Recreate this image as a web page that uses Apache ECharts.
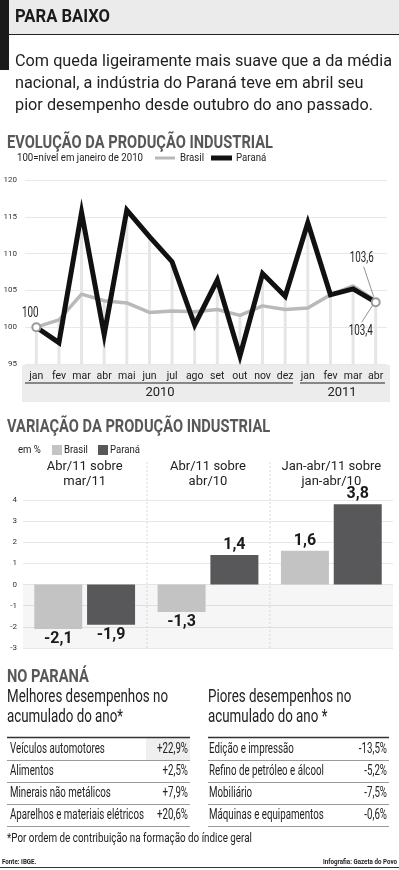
<!DOCTYPE html>
<html>
<head>
<meta charset="utf-8">
<script src="https://cdn.jsdelivr.net/npm/echarts@6/dist/echarts.min.js"></script>
<style>
  html, body { margin: 0; padding: 0; background: #fff; }
  #main { width: 399px; height: 870px; }
</style>
</head>
<body>
<div id="main"></div>
<script>
// evolution chart (100 = jan/2010)
var months = ['jan', 'fev', 'mar', 'abr', 'mai', 'jun', 'jul', 'ago', 'set', 'out', 'nov', 'dez', 'jan', 'fev', 'mar', 'abr'];
var brasil = [100, 101, 104.5, 103.6, 103.3, 102.0, 102.2, 102.1, 102.4, 101.6, 102.9, 102.4, 102.6, 104.4, 105.6, 103.6];
var parana = [100, 97.9, 115.6, 99.0, 115.9, 112.3, 108.9, 100.3, 106.4, 96.1, 107.3, 104.2, 114.2, 104.4, 105.2, 103.4];
var years = ['2010', '2011'];

// variation chart (%)
var varCats = ['Abr/11 sobre\nmar/11', 'Abr/11 sobre\nabr/10', 'Jan-abr/11 sobre\njan-abr/10'];
var varBrasil = [-2.1, -1.3, 1.6];
var varParana = [-1.9, 1.4, 3.8];

// tables
var melhoresNomes = ['Veículos automotores', 'Alimentos', 'Minerais não metálicos', 'Aparelhos e materiais elétricos'];
var melhoresValores = [22.9, 2.5, 7.9, 20.6];
var pioresNomes = ['Edição e impressão', 'Refino de petróleo e álcool', 'Mobiliário', 'Máquinas e equipamentos'];
var pioresValores = [-13.5, -5.2, -7.5, -0.6];

var SANS = 'Roboto, "Noto Sans", sans-serif';
var TITLE_GRAY = '#58585a';

var ctx = document.createElement('canvas').getContext('2d');

function fmt(v) {
    return v % 1 === 0 ? String(v) : v.toFixed(1).replace('.', ',');
}
function pct(v) {
    return (v > 0 ? '+' : '') + v.toFixed(1).replace('.', ',') + '%';
}
// horizontal squeeze so a sample string takes the width it has in the print layout
function squeeze(sample, font, width) {
    ctx.font = font;
    return width / ctx.measureText(sample).width;
}
function txt(x, y, text, font, opts) {
    opts = opts || {};
    return {
        type: 'text', x: x, y: y, z: 100, scaleX: opts.scale || 1,
        style: {
            text: text, font: font, fill: opts.fill || '#222',
            align: opts.align || 'left', verticalAlign: 'middle'
        }
    };
}
function hline(x1, x2, y, color, w) {
    return { type: 'line', z: 50, shape: { x1: x1, y1: y, x2: x2, y2: y }, style: { stroke: color, lineWidth: w } };
}
function seg(x1, y1, x2, y2, color, w, dash) {
    return { type: 'line', z: 50, shape: { x1: x1, y1: y1, x2: x2, y2: y2 }, style: { stroke: color, lineWidth: w, lineDash: dash || null } };
}

var F_TITLE = 'bold 19px ' + SANS;
var F_SUB = '16.5px ' + SANS;
var F_HEAD = 'bold 18.5px ' + SANS;
var F_LEG = '10.5px ' + SANS;
var F_LEG2 = '11.5px ' + SANS;
var F_H2 = '18.5px ' + SANS;
var F_TAB = '14px ' + SANS;
var F_NOTE = '13px ' + SANS;
var F_SRC = 'bold 7.5px ' + SANS;
var F_PT = '15px ' + SANS;

var sTitle = squeeze('PARA BAIXO', F_TITLE, 95);
var sSub = squeeze('Com queda ligeiramente mais suave que a da média', F_SUB, 377);
var sHead = squeeze('EVOLUÇÃO DA PRODUÇÃO INDUSTRIAL', F_HEAD, 266);
var sLeg = squeeze('100=nível em janeiro de 2010', F_LEG, 126);
var sLeg2 = squeeze('Paraná', F_LEG2, 30);
var sH2 = squeeze('Melhores desempenhos no', F_H2, 161);
var sTab = squeeze('Aparelhos e materiais elétricos', F_TAB, 134);
var sNote = squeeze('*Por ordem de contribuição na formação do índice geral', F_NOTE, 245);
var sSrc = squeeze('Infografia: Gazeta do Povo', F_SRC, 74);
var sPt = squeeze('103,6', F_PT, 24);

var chart = echarts.init(document.getElementById('main'));

// drop lines go up to the higher of the two series
var dropLines = brasil.map(function (b, i) { return Math.max(b, parana[i]); });

var endMark = { symbol: 'circle', symbolSize: 8, itemStyle: { color: '#fff', borderColor: '#999', borderWidth: 2 } };
var paranaData = parana.map(function (v, i) {
    if (i === 0 || i === parana.length - 1) {
        return Object.assign({ value: v }, endMark);
    }
    return v;
});

var graphics = [
    // header
    { type: 'rect', z: 1, shape: { x: 0, y: 0, width: 399, height: 34 }, style: { fill: '#ebebeb' } },
    { type: 'rect', z: 2, shape: { x: 0, y: 0, width: 9, height: 70 }, style: { fill: '#1a1a1a' } },
    hline(9, 399, 34.5, '#222', 1.2),
    txt(15, 17, 'PARA BAIXO', F_TITLE, { fill: '#1a1a1a', scale: sTitle }),
    txt(15, 62, 'Com queda ligeiramente mais suave que a da média', F_SUB, { scale: sSub }),
    txt(15, 84, 'nacional, a indústria do Paraná teve em abril seu', F_SUB, { scale: sSub }),
    txt(15, 106, 'pior desempenho desde outubro do ano passado.', F_SUB, { scale: sSub }),

    // evolution title + legend
    txt(7, 143, 'EVOLUÇÃO DA PRODUÇÃO INDUSTRIAL', F_HEAD, { fill: TITLE_GRAY, scale: sHead }),
    txt(17, 158, '100=nível em janeiro de 2010', F_LEG, { scale: sLeg }),
    hline(155, 175, 158, '#b9b9b9', 3),
    txt(180, 158, 'Brasil', F_LEG, { scale: sLeg }),
    hline(211, 232, 158, '#111', 5),
    txt(236, 158, 'Paraná', F_LEG, { scale: sLeg }),

    // month label band
    { type: 'rect', z: -10, shape: { x: 22, y: 365, width: 368, height: 37 }, style: { fill: '#ececec' } },
    hline(25, 293, 383, '#222', 1),
    hline(300, 385, 383, '#222', 1),
    txt(160, 393, years[0], '13px ' + SANS, { align: 'center' }),
    txt(342, 393, years[1], '13px ' + SANS, { align: 'center' }),

    // variation title + legend
    txt(7, 427, 'VARIAÇÃO DA PRODUÇÃO INDUSTRIAL', F_HEAD, { fill: TITLE_GRAY, scale: sHead }),
    txt(18, 450, 'em %', F_LEG2, { scale: sLeg2 }),
    { type: 'rect', z: 50, shape: { x: 52, y: 445, width: 10, height: 10 }, style: { fill: '#c3c3c3' } },
    txt(64, 450, 'Brasil', F_LEG2, { scale: sLeg2 }),
    { type: 'rect', z: 50, shape: { x: 98, y: 445, width: 10, height: 10 }, style: { fill: '#58585a' } },
    txt(110, 450, 'Paraná', F_LEG2, { scale: sLeg2 }),
    seg(147, 462, 147, 648, '#cfcfcf', 0.8, [2, 2]),
    seg(270, 462, 270, 648, '#cfcfcf', 0.8, [2, 2]),

    // no paraná
    txt(7, 677, 'NO PARANÁ', F_HEAD, { fill: TITLE_GRAY, scale: sHead }),
    txt(7, 697, 'Melhores desempenhos no', F_H2, { scale: sH2 }),
    txt(7, 717, 'acumulado do ano*', F_H2, { scale: sH2 }),
    txt(208, 697, 'Piores desempenhos no', F_H2, { scale: sH2 }),
    txt(208, 717, 'acumulado do ano *', F_H2, { scale: sH2 }),
    { type: 'rect', z: 1, shape: { x: 146, y: 738, width: 44, height: 22 }, style: { fill: '#efefef' } },
    hline(7, 190, 737.5, '#333', 1.5),
    hline(208, 389, 737.5, '#333', 1.5),

    txt(7, 839, '*Por ordem de contribuição na formação do índice geral', F_NOTE, { scale: sNote }),
    txt(2, 862, 'Fonte: IBGE.', F_SRC, { scale: sSrc }),
    txt(397, 862, 'Infografia: Gazeta do Povo', F_SRC, { align: 'right', scale: sSrc }),
    hline(0, 399, 867.5, '#333', 1)
];

// table rows
var rowY = [749, 771, 793, 815];
rowY.forEach(function (y, i) {
    graphics.push(txt(10, y, melhoresNomes[i], F_TAB, { scale: sTab }));
    graphics.push(txt(188, y, pct(melhoresValores[i]), F_TAB, { align: 'right', scale: sTab }));
    graphics.push(txt(209, y, pioresNomes[i], F_TAB, { scale: sTab }));
    graphics.push(txt(387, y, pct(pioresValores[i]), F_TAB, { align: 'right', scale: sTab }));
    graphics.push(hline(7, 190, y + 11.5, '#9a9a9a', 1));
    graphics.push(hline(208, 389, y + 11.5, '#9a9a9a', 1));
});

var barLabel = {
    show: true, distance: 2, fontFamily: SANS, fontWeight: 'bold', fontSize: 16, color: '#1a1a1a',
    formatter: function (p) { return fmt(p.value); }
};

var option = {
    animation: false,
    textStyle: { fontFamily: SANS },
    graphic: graphics,
    grid: [
        { left: 25, right: 12, top: 180, height: 184 },
        { left: 23, right: 6, top: 500, height: 148 }
    ],
    xAxis: [
        {
            type: 'category', gridIndex: 0, data: months, boundaryGap: true,
            axisLine: { show: false }, axisTick: { show: false },
            axisLabel: { interval: 0, margin: 7, fontFamily: SANS, fontSize: 10.5, color: '#222' }
        },
        {
            type: 'category', gridIndex: 1, data: varCats, position: 'top',
            axisLine: { show: false, onZero: false }, axisTick: { show: false },
            axisLabel: { interval: 0, margin: 11, fontFamily: SANS, fontSize: 13, lineHeight: 15, color: '#222' }
        }
    ],
    yAxis: [
        {
            type: 'value', gridIndex: 0, min: 95, max: 120, interval: 5,
            axisLine: { show: false }, axisTick: { show: false },
            axisLabel: { margin: 8, fontSize: 8, color: '#333', fontFamily: SANS },
            splitLine: { lineStyle: { color: '#e8e8e8', width: 1 } }
        },
        {
            type: 'value', gridIndex: 1, min: -3, max: 4, interval: 1,
            axisLine: { show: false }, axisTick: { show: false },
            axisLabel: { margin: 6, fontSize: 8, color: '#333', fontFamily: SANS },
            splitLine: { lineStyle: { color: '#e8e8e8', width: 1 } }
        }
    ],
    series: [
        {
            type: 'bar', xAxisIndex: 0, yAxisIndex: 0, data: dropLines,
            barWidth: 3, clip: true, z: 1, silent: true,
            itemStyle: { color: '#e6e6e6' }
        },
        {
            name: 'Brasil', type: 'line', xAxisIndex: 0, yAxisIndex: 0, data: brasil,
            symbol: 'none', z: 3,
            lineStyle: { color: '#b9b9b9', width: 3.5 }
        },
        {
            name: 'Paraná', type: 'line', xAxisIndex: 0, yAxisIndex: 0, data: paranaData,
            symbol: 'none', showSymbol: true, z: 4,
            lineStyle: { color: '#111', width: 5, join: 'miter' }
        },
        {
            name: 'Brasil', type: 'bar', xAxisIndex: 1, yAxisIndex: 1,
            barWidth: 48, barGap: '10%',
            itemStyle: { color: '#c3c3c3' },
            data: varBrasil.map(function (v) {
                return { value: v, label: { position: v < 0 ? 'bottom' : 'top' } };
            }),
            label: barLabel,
            markArea: {
                silent: true,
                itemStyle: { color: 'rgba(0,0,0,0.035)' },
                data: [[{ yAxis: -3 }, { yAxis: 0 }]]
            }
        },
        {
            name: 'Paraná', type: 'bar', xAxisIndex: 1, yAxisIndex: 1,
            barWidth: 48, barGap: '10%',
            itemStyle: { color: '#58585a' },
            data: varParana.map(function (v) {
                return { value: v, label: { position: v < 0 ? 'bottom' : 'top' } };
            }),
            label: barLabel
        }
    ]
};
chart.setOption(option);

// point labels, placed from the chart's own scales
var last = months.length - 1;
var pFirst = chart.convertToPixel({ xAxisIndex: 0, yAxisIndex: 0 }, [0, parana[0]]);
var pBr = chart.convertToPixel({ xAxisIndex: 0, yAxisIndex: 0 }, [last, brasil[last]]);
var pPr = chart.convertToPixel({ xAxisIndex: 0, yAxisIndex: 0 }, [last, parana[last]]);
graphics.push(txt(pFirst[0] - 6, pFirst[1] - 14, fmt(parana[0]), F_PT, { align: 'center', scale: sPt }));
graphics.push(txt(pBr[0] - 14, pBr[1] - 42, fmt(brasil[last]), F_PT, { align: 'center', scale: sPt }));
graphics.push(seg(pBr[0] - 12, pBr[1] - 34, pBr[0] - 2, pBr[1] - 4, '#777', 0.8));
graphics.push(txt(pPr[0] - 15, pPr[1] + 29, fmt(parana[last]), F_PT, { align: 'center', scale: sPt }));
graphics.push(seg(pPr[0] - 14, pPr[1] + 20, pPr[0] - 3, pPr[1] + 3, '#777', 0.8));
chart.setOption({ graphic: graphics });
</script>
</body>
</html>
